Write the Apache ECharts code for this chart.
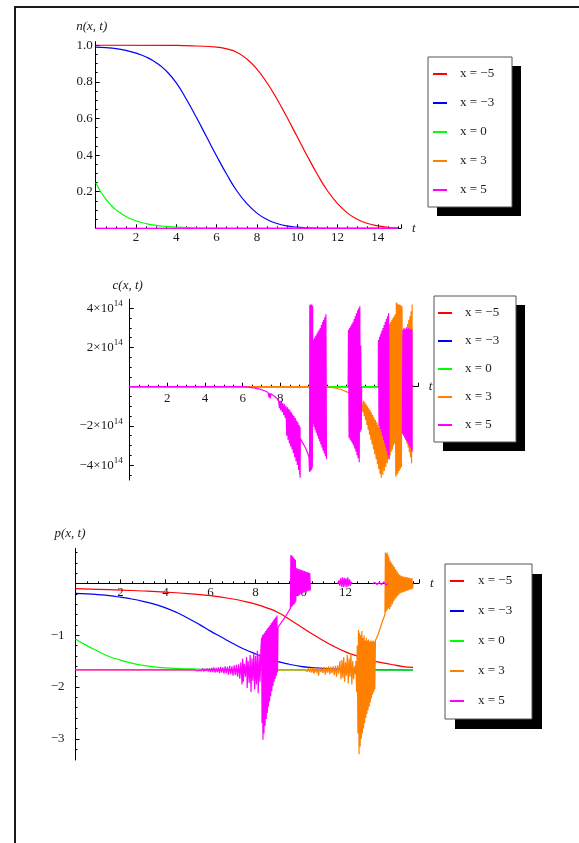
<!DOCTYPE html>
<html>
<head>
<meta charset="utf-8">
<script src="https://cdn.jsdelivr.net/npm/echarts@6/dist/echarts.min.js"></script>
<style>
html, body { margin: 0; padding: 0; background: #fff; }
#wrap { position: relative; width: 579px; height: 843px; overflow: hidden; }
#frame { position: absolute; left: 14px; top: 6px; width: 640px; height: 900px;
         border-left: 2px solid #1a1a1a; border-top: 2px solid #1a1a1a; }
#chart { position: absolute; left: 0; top: 0; width: 579px; height: 843px; }
</style>
</head>
<body>
<div id="wrap"><div id="frame"></div><div id="chart"></div></div>
<script>
// ---- series labels ----
const seriesNames = ['x = −5', 'x = −3', 'x = 0', 'x = 3', 'x = 5'];

// ---- tick values / labels ----
const tTicks = [2, 4, 6, 8, 10, 12, 14];
const nTicks = [0.2, 0.4, 0.6, 0.8, 1.0];
const nTickLabels = ['0.2', '0.4', '0.6', '0.8', '1.0'];
const nMinor = [0.05, 0.1, 0.15, 0.25, 0.3, 0.35, 0.45, 0.5, 0.55, 0.65, 0.7, 0.75, 0.85, 0.9, 0.95];
const cTicks = [-4, -2, 2, 4];
const cTickMantissa = ['−4', '−2', '2', '4'];
const cTickExponent = '14';
const cMinor = [-4.5, -3.5, -3, -2.5, -1.5, -1, -0.5, 0.5, 1, 1.5, 2.5, 3, 3.5];
const pTicks = [-3, -2, -1];
const pTickLabels = ['−3', '−2', '−1'];
const pMinor = [0.6, 0.4, 0.2, -0.2, -0.4, -0.6, -0.8, -1.2, -1.4, -1.6, -1.8, -2.2, -2.4, -2.6, -2.8, -3.2];

// ---- n(x, t) ----
const nRed = [[0,1],[4,0.999],[5,0.996],[6,0.99],[6.5,0.98],[7,0.962],[7.5,0.925],[8,0.87],[8.5,0.795],[9,0.705],[9.5,0.605],[10,0.5],[10.5,0.395],[11,0.295],[11.5,0.205],[12,0.135],[12.5,0.083],[13,0.048],[13.5,0.026],[14,0.013],[14.5,0.005],[15,0.002]];
const nBlue = [[0,0.99],[0.5,0.987],[1,0.982],[1.5,0.972],[2,0.957],[2.5,0.936],[3,0.905],[3.5,0.86],[4,0.795],[4.5,0.705],[5,0.605],[5.5,0.5],[6,0.395],[6.5,0.295],[7,0.205],[7.5,0.135],[8,0.083],[8.5,0.048],[9,0.026],[9.5,0.013],[10,0.006],[10.5,0.003],[11,0.001],[12,0],[15,0]];
const nGreen = [[0,0.25],[0.25,0.2],[0.5,0.16],[0.75,0.128],[1,0.102],[1.5,0.065],[2,0.041],[2.5,0.026],[3,0.016],[3.5,0.01],[4,0.006],[5,0.002],[6,0.0005],[7,0],[15,0]];
const nOrange = [[0,0],[15,0]];
const nMagenta = [[0,0],[15,0]];

// ---- c(x, t), in units of 10^14 ----
const cRed = [[0,0],[15,0]];
const cBlue = [[0,0],[15,0]];
const cGreen = [[0,0],[15,0]];
const cOrange = [[0,0],[10.3,0],[10.6,-0.02],[10.9,-0.06],[11.2,-0.13],[11.5,-0.25],[11.8,-0.38],[12.1,-0.5],[12.3,-0.6],
  [12.35,-0.65],[12.385,-1.3],[12.42,-0.72],[12.455,-1.5],[12.49,-0.8],[12.525,-1.7],[12.56,-0.9],[12.595,-1.95],[12.63,-1.0],[12.665,-2.2],[12.7,-1.1],[12.735,-2.45],[12.77,-1.2],[12.805,-2.7],[12.84,-1.32],[12.875,-2.95],[12.91,-1.45],[12.945,-3.2],[12.98,-1.58],[13.015,-3.45],[13.05,-1.7],[13.085,-3.7],[13.12,-1.82],[13.155,-3.95],[13.19,-1.95],[13.225,-4.2],[13.26,-2.05],[13.295,-4.45],[13.33,-2.1],[13.36,-4.65],
  [13.4,-2.2],[13.44,-4.5],[13.48,-2.3],[13.52,-4.3],[13.56,-2.4],[13.6,-4.1],[13.64,-2.5],[13.68,-3.9],[13.72,-2.6],[13.76,-3.7],
  [13.8,3.2],[13.83,-3.5],[13.86,3.3],[13.89,-3.3],[13.92,3.4],[13.95,-3.2],[13.98,3.5],[14.01,-3.0],[14.04,3.6],[14.07,-2.9],[14.1,3.7],
  [14.13,-4.6],[14.16,4.3],[14.19,-4.5],[14.22,4.25],[14.25,-4.4],[14.28,4.2],[14.31,-4.3],[14.34,4.2],[14.37,-4.2],[14.4,4.15],[14.43,-4.1],[14.46,4.1],
  [14.49,-2.1],[14.52,2.6],[14.55,-2.3],[14.58,2.75],[14.61,-2.5],[14.64,2.9],[14.67,-2.7],[14.7,3.05],[14.73,-2.9],[14.76,3.2],[14.79,-3.1],[14.82,3.4],[14.85,-3.35],[14.88,3.6],[14.91,-3.6],[14.94,3.85],[14.97,-3.9],[15,4.2]];
const cMagenta = [[0,0],[6,0],[6.3,-0.02],[6.6,-0.06],[6.9,-0.12],[7.2,-0.22],[7.35,-0.3],[7.4,-0.55],[7.43,-0.32],[7.47,-0.6],[7.5,-0.36],[7.6,-0.42],[7.7,-0.5],[7.8,-0.58],[7.9,-0.68],[7.95,-1.1],[7.98,-0.72],[8.02,-1.2],[8.06,-0.78],[8.1,-1.3],[8.14,-0.84],[8.18,-1.45],[8.22,-0.9],[8.26,-1.6],[8.3,-0.98],
  [8.34,-2.5],[8.375,-1.05],[8.41,-2.7],[8.445,-1.12],[8.48,-2.9],[8.515,-1.2],[8.55,-3.05],[8.585,-1.3],[8.62,-3.2],[8.655,-1.4],[8.69,-3.4],[8.725,-1.5],[8.76,-3.6],[8.795,-1.6],[8.83,-3.8],[8.865,-1.72],[8.9,-4.0],[8.935,-1.82],[8.97,-4.25],[9.0,-1.95],[9.03,-4.5],[9.045,-2.05],[9.05,-4.65],[9.06,-2.65],
  [9.15,-2.8],[9.25,-2.97],[9.35,-3.15],[9.45,-3.38],[9.52,-3.6],
  [9.55,-4.35],[9.565,4.15],[9.58,-4.3],[9.595,4.2],[9.61,-4.3],[9.625,4.18],[9.64,-4.25],[9.655,4.2],[9.67,-4.2],[9.685,4.15],[9.7,-4.1],[9.715,4.1],
  [9.73,-1.9],[9.76,2.4],[9.79,-2.05],[9.82,2.5],[9.85,-2.2],[9.88,2.6],[9.91,-2.35],[9.94,2.7],[9.97,-2.5],[10.0,2.8],[10.03,-2.65],[10.06,2.9],[10.09,-2.8],[10.12,3.0],[10.15,-2.95],[10.18,3.15],[10.21,-3.1],[10.24,3.3],[10.27,-3.25],[10.3,3.4],[10.33,-3.4],[10.36,3.55],[10.39,-3.55],[10.42,3.7],[10.45,-3.7],[10.47,'-'],
  [11.6,0],[11.62,2.9],[11.65,-2.6],[11.68,3.0],[11.71,-2.7],[11.74,3.1],[11.77,-2.8],[11.8,3.2],[11.83,-2.9],[11.86,3.3],[11.89,-3.0],[11.92,3.45],[11.95,-3.15],[11.98,3.6],[12.01,-3.3],[12.04,3.75],[12.07,-3.5],[12.1,3.9],[12.13,-3.65],[12.16,4.0],[12.19,-3.85],[12.22,4.1],[12.24,-2.3],[12.27,2.1],[12.3,-2.2],[12.32,0],[12.34,'-'],
  [13.2,0],[13.21,2.4],[13.24,-2.0],[13.27,2.55],[13.3,-2.15],[13.33,2.7],[13.36,-2.3],[13.39,2.85],[13.42,-2.5],[13.45,3.0],[13.48,-2.7],[13.51,3.15],[13.54,-2.9],[13.57,3.3],[13.6,-3.1],[13.63,3.45],[13.66,-3.3],[13.69,3.6],[13.72,-3.5],[13.75,3.75],[13.78,-3.7],[13.8,'-'],
  [14.48,-2.4],[14.51,2.9],[14.54,-2.5],[14.57,3.0],[14.6,-2.6],[14.63,2.95],[14.66,-2.7],[14.69,3.0],[14.72,-2.8],[14.75,2.95],[14.78,-2.9],[14.81,3.0],[14.84,-3.0],[14.87,2.9],[14.9,-3.1],[14.93,2.95],[14.96,-3.2],[14.99,2.9],[15,-3.3]];

// ---- p(x, t) ----
const pRed = [[0,-0.1],[1,-0.112],[2,-0.127],[3,-0.145],[4,-0.167],[5,-0.195],[6,-0.235],[7,-0.3],[7.5,-0.345],[8,-0.4],[8.5,-0.47],[9,-0.56],[9.5,-0.69],[10,-0.83],[10.5,-0.97],[11,-1.1],[11.5,-1.22],[12,-1.32],[12.5,-1.4],[13,-1.47],[13.5,-1.52],[14,-1.56],[14.5,-1.6],[15,-1.62]];
const pBlue = [[0,-0.19],[0.5,-0.2],[1,-0.215],[1.5,-0.235],[2,-0.265],[2.5,-0.3],[3,-0.345],[3.5,-0.4],[4,-0.47],[4.5,-0.56],[5,-0.67],[5.5,-0.79],[6,-0.92],[6.5,-1.04],[7,-1.16],[7.5,-1.27],[8,-1.36],[8.5,-1.44],[9,-1.51],[9.5,-1.56],[10,-1.6],[10.5,-1.625],[11,-1.64],[11.5,-1.65],[12,-1.658],[13,-1.666],[14,-1.67],[15,-1.672]];
const pGreen = [[0,-1.07],[0.5,-1.2],[1,-1.31],[1.5,-1.41],[2,-1.48],[2.5,-1.54],[3,-1.58],[3.5,-1.61],[4,-1.63],[5,-1.65],[6,-1.66],[8,-1.668],[15,-1.672]];
const pOrange = [[0,-1.67],[10.2,-1.67],
  [10.25,-1.64],[10.3,-1.7],[10.35,-1.63],[10.4,-1.71],[10.45,-1.64],[10.5,-1.72],[10.55,-1.63],[10.6,-1.74],[10.65,-1.62],[10.7,-1.72],[10.75,-1.63],[10.8,-1.78],[10.85,-1.62],[10.9,-1.71],[10.95,-1.64],[11.0,-1.73],[11.05,-1.61],[11.1,-1.76],[11.15,-1.62],[11.2,-1.72],[11.25,-1.6],[11.3,-1.75],[11.35,-1.61],[11.4,-1.73],[11.45,-1.6],[11.5,-1.77],[11.55,-1.59],[11.6,-1.8],[11.65,-1.58],[11.7,-1.74],[11.75,-1.5],[11.8,-1.85],
  [11.84,-1.48],[11.88,-1.82],[11.92,-1.42],[11.96,-1.9],[12.0,-1.52],[12.04,-1.78],[12.08,-1.38],[12.12,-1.93],[12.16,-1.45],[12.2,-1.8],[12.24,-1.35],[12.28,-1.95],[12.32,-1.5],[12.36,-1.85],[12.4,-1.6],[12.44,-1.75],
  [12.46,-1.5],[12.49,-2.1],[12.52,-1.2],[12.55,-2.9],[12.575,-0.9],[12.6,-3.3],[12.625,-0.95],[12.65,-3.15],[12.675,-1.0],[12.7,-3.0],[12.725,-0.92],[12.75,-2.9],[12.775,-1.05],[12.8,-2.8],[12.825,-1.0],[12.85,-2.7],[12.875,-1.1],[12.9,-2.6],[12.925,-1.05],[12.95,-2.52],[12.975,-1.1],[13.0,-2.45],[13.025,-1.08],[13.05,-2.38],[13.075,-1.12],[13.1,-2.3],[13.125,-1.1],[13.15,-2.22],[13.175,-1.12],[13.2,-2.15],[13.225,-1.1],[13.25,-2.1],[13.275,-1.12],[13.3,-2.05],[13.33,-1.1],
  [13.45,-0.98],[13.55,-0.85],[13.65,-0.72],[13.75,-0.6],
  [13.77,0.6],[13.79,-0.55],[13.81,0.58],[13.83,-0.52],[13.85,0.6],[13.87,-0.5],[13.89,0.55],[13.91,-0.48],[13.93,0.5],
  [13.96,-0.5],[13.99,0.44],[14.02,-0.45],[14.05,0.4],[14.08,-0.4],[14.11,0.36],[14.14,-0.35],[14.17,0.32],[14.2,-0.31],[14.23,0.28],[14.26,-0.27],[14.29,0.24],[14.32,-0.24],[14.35,0.2],[14.38,-0.21],[14.41,0.17],[14.44,-0.19],[14.47,0.15],[14.5,-0.18],[14.53,0.14],[14.56,-0.17],[14.59,0.13],[14.62,-0.16],[14.65,0.13],[14.68,-0.15],[14.71,0.12],[14.74,-0.14],[14.77,0.12],[14.8,-0.13],[14.83,0.11],[14.86,-0.12],[14.89,0.1],[14.92,-0.11],[14.95,0.1],[14.98,-0.1],[15,0]];
const pMagenta = [[0,-1.67],[5.3,-1.67],
  [5.35,-1.65],[5.4,-1.69],[5.45,-1.66],[5.5,-1.68],[5.55,-1.65],[5.6,-1.69],[5.65,-1.64],[5.7,-1.7],[5.75,-1.65],[5.8,-1.69],[5.85,-1.64],[5.9,-1.7],[5.95,-1.64],[6.0,-1.71],[6.05,-1.63],[6.1,-1.71],[6.15,-1.62],[6.2,-1.72],[6.25,-1.63],[6.3,-1.71],[6.35,-1.62],[6.4,-1.73],[6.45,-1.61],[6.5,-1.72],[6.55,-1.62],[6.6,-1.74],[6.65,-1.6],[6.7,-1.73],[6.75,-1.61],[6.8,-1.76],[6.85,-1.59],[6.9,-1.75],[6.95,-1.6],[7.0,-1.78],[7.05,-1.58],[7.1,-1.77],[7.15,-1.57],[7.2,-1.8],[7.25,-1.56],[7.3,-1.84],[7.35,-1.52],[7.4,-1.95],[7.43,-1.45],[7.46,-1.9],[7.5,-1.55],[7.55,-1.8],[7.6,-1.42],[7.63,-2.02],[7.67,-1.5],[7.72,-1.92],[7.76,-1.38],[7.8,-2.1],[7.84,-1.45],[7.88,-1.88],[7.92,-1.33],[7.96,-2.05],[8.0,-1.4],[8.04,-1.95],[8.08,-1.3],[8.12,-2.12],[8.16,-1.36],[8.2,-1.9],[8.24,-1.25],
  [8.27,-1.05],[8.29,-2.7],[8.31,-1.0],[8.33,-3.02],[8.35,-0.98],[8.375,-2.9],[8.4,-0.95],[8.425,-2.75],[8.45,-0.92],[8.475,-2.62],[8.5,-0.89],[8.525,-2.5],[8.55,-0.86],[8.575,-2.38],[8.6,-0.83],[8.625,-2.28],[8.65,-0.8],[8.675,-2.18],[8.7,-0.77],[8.725,-2.08],[8.75,-0.74],[8.775,-1.98],[8.8,-0.71],[8.825,-1.9],[8.85,-0.68],[8.875,-1.84],[8.9,-0.65],[8.925,-1.78],[8.95,-0.62],[8.975,-1.72],[9.0,-0.85],
  [9.15,-0.75],[9.3,-0.66],[9.45,-0.55],[9.55,-0.48],
  [9.57,0.55],[9.59,-0.46],[9.61,0.54],[9.63,-0.44],[9.65,0.52],[9.67,-0.42],[9.69,0.5],[9.71,-0.4],[9.73,0.48],[9.75,-0.38],[9.77,0.46],[9.79,-0.35],
  [9.81,0.3],[9.84,-0.24],[9.87,0.29],[9.9,-0.23],[9.93,0.28],[9.96,-0.22],[9.99,0.27],[10.02,-0.2],[10.05,0.26],[10.08,-0.19],[10.11,0.25],[10.14,-0.18],[10.17,0.24],[10.2,-0.17],[10.23,0.23],[10.26,-0.16],[10.29,0.22],[10.32,-0.15],[10.35,0.21],[10.38,-0.14],[10.41,0.2],[10.44,-0.13],[10.46,'-'],
  [11.65,0],[11.7,0.06],[11.74,-0.04],[11.78,0.1],[11.82,-0.06],[11.86,0.12],[11.9,-0.07],[11.94,0.11],[11.98,-0.06],[12.02,0.1],[12.06,-0.07],[12.1,0.12],[12.14,-0.05],[12.18,0.08],[12.22,-0.04],[12.26,0.03],[12.3,0],[12.32,'-'],
  [13.2,0],[13.3,0.02],[13.4,-0.02],[13.5,0.02],[13.6,-0.02],[13.7,0.03],[13.8,-0.03],[13.9,0]];

const nData = [nRed, nBlue, nGreen, nOrange, nMagenta];
const cData = [cRed, cBlue, cGreen, cOrange, cMagenta];
const pData = [pRed, pBlue, pGreen, pOrange, pMagenta];

// ---- styling ----
const colors = ['#ff0000', '#0000ff', '#00ff00', '#ff8000', '#ff00ff'];
const serif = '"Liberation Serif", "DejaVu Serif", serif';
const ink = '#1a1a1a';
const smoothFlags = [true, true, true, false, false];

const chart = echarts.init(document.getElementById('chart'), null, { renderer: 'canvas' });

// horizontal t axis; a negative offset lifts the whole axis (line, ticks, labels) to y = 0
function tAxis(gridIndex, max, margin, lift) {
  return {
    type: 'value', gridIndex, min: 0, max, interval: 2,
    position: 'bottom', offset: -lift,
    name: 't', nameLocation: 'end', nameGap: 11,
    nameTextStyle: { fontFamily: serif, fontStyle: 'italic', fontSize: 13, color: ink },
    axisLine: { onZero: false, lineStyle: { color: '#000', width: 1 } },
    axisTick: { inside: true, length: 4, lineStyle: { color: '#000' } },
    minorTick: { show: true, splitNumber: 4, length: 2, lineStyle: { color: '#000' } },
    axisLabel: {
      margin, fontFamily: serif, fontSize: 13, color: ink,
      formatter: v => (tTicks.indexOf(v) >= 0 ? String(v) : '')
    },
    splitLine: { show: false }, minorSplitLine: { show: false }
  };
}

function valueAxis(gridIndex, min, max, ticks, formatter, name, nameGap, namePad, labelMargin, rich) {
  return {
    type: 'value', gridIndex, min, max, position: 'left',
    name, nameLocation: 'end', nameGap,
    nameTextStyle: { fontFamily: serif, fontStyle: 'italic', fontSize: 13, color: ink, padding: namePad },
    axisLine: { show: true, onZero: false, lineStyle: { color: '#000', width: 1 } },
    axisTick: { show: true, inside: true, length: 4, customValues: ticks, lineStyle: { color: '#000' } },
    axisLabel: { show: true, customValues: ticks, margin: labelMargin, fontFamily: serif, fontSize: 13, color: ink, formatter, rich },
    splitLine: { show: false }
  };
}

function minorAxis(gridIndex, min, max, ticks) {
  return {
    type: 'value', gridIndex, min, max, position: 'left', offset: 0,
    axisLine: { show: false, onZero: false },
    axisTick: { show: true, inside: true, length: 2, customValues: ticks, lineStyle: { color: '#000' } },
    axisLabel: { show: false },
    splitLine: { show: false }
  };
}

// legend body: white panel with a hard black drop shadow and the item rows
function legendBody(left, top, pad, gap, textPad, shadow) {
  return {
    show: true, orient: 'vertical', left, top, padding: pad, itemGap: gap,
    itemWidth: 14, itemHeight: 2, icon: 'rect', selectedMode: false,
    backgroundColor: '#fff', borderWidth: 0,
    shadowColor: '#000', shadowBlur: 0, shadowOffsetX: shadow, shadowOffsetY: shadow,
    textStyle: { fontFamily: serif, fontSize: 13, color: ink, lineHeight: 16, width: 36, padding: [0, 0, 0, textPad] },
    data: seriesNames
  };
}
// legend outline: same box drawn on top with only its grey border visible
function legendOutline(left, top, pad, gap, textPad) {
  return {
    show: true, orient: 'vertical', left, top, padding: pad, itemGap: gap, z: 10,
    itemWidth: 14, itemHeight: 2, icon: 'rect', selectedMode: false,
    backgroundColor: 'transparent', borderColor: '#555', borderWidth: 1,
    itemStyle: { opacity: 0 },
    textStyle: { fontFamily: serif, fontSize: 13, color: 'rgba(0,0,0,0)', lineHeight: 16, width: 36, padding: [0, 0, 0, textPad] },
    data: seriesNames
  };
}

const series = [];
[nData, cData, pData].forEach((group, g) => {
  group.forEach((data, i) => {
    series.push({
      type: 'line', name: seriesNames[i], data,
      xAxisIndex: g, yAxisIndex: g,
      symbol: 'none', showSymbol: false,
      smooth: smoothFlags[i] ? 0.5 : false,
      connectNulls: false, clip: true,
      lineStyle: { color: colors[i], width: 1.2 },
      itemStyle: { color: colors[i] },
      emphasis: { disabled: true }
    });
  });
});

const option = {
  animation: false,
  backgroundColor: 'transparent',
  grid: [
    { left: 95.7, top: 41.6, width: 305.3, height: 186.7 },
    { left: 129.7, top: 299.3, width: 288.1, height: 180.7 },
    { left: 75.5, top: 548.3, width: 343.4, height: 211.7 }
  ],
  xAxis: [tAxis(0, 15.15, 3, 0), tAxis(1, 15.3, 5, 93.3), tAxis(2, 15.26, 3, 176.7)],
  yAxis: [
    valueAxis(0, 0, 1.02, nTicks,
      v => { const k = nTicks.findIndex(x => Math.abs(x - v) < 1e-9); return k >= 0 ? nTickLabels[k] : ''; },
      'n(x, t)', 9, [0, 8, 0, 0], 3),
    valueAxis(1, -4.76, 4.46, cTicks,
      v => { const k = cTicks.indexOf(v); return k >= 0 ? '{m|' + cTickMantissa[k] + '×10}{e|' + cTickExponent + '}' : ''; },
      'c(x, t)', 7, [0, 4, 0, 0], 7,
      { m: { fontFamily: serif, fontSize: 13, color: ink, lineHeight: 18 },
        e: { fontFamily: serif, fontSize: 9, color: ink, lineHeight: 8, verticalAlign: 'top' } }),
    valueAxis(2, -3.41, 0.68, pTicks,
      v => { const k = pTicks.indexOf(v); return k >= 0 ? pTickLabels[k] : ''; },
      'p(x, t)', 8, [0, 11, 0, 0], 11),
    minorAxis(0, 0, 1.02, nMinor),
    minorAxis(1, -4.76, 4.46, cMinor),
    minorAxis(2, -3.41, 0.68, pMinor)
  ],
  legend: [
    legendBody(428, 57, [9, 16, 9, 5], 13, 8, 9),
    legendBody(434, 296, [9, 15, 9, 4], 12, 8, 9),
    legendBody(445, 564, [9, 18, 10, 5], 14, 9, 10),
    legendOutline(428, 57, [9, 16, 9, 5], 13, 8),
    legendOutline(434, 296, [9, 15, 9, 4], 12, 8),
    legendOutline(445, 564, [9, 18, 10, 5], 14, 9)
  ],
  series
};

chart.setOption(option);
</script>
</body>
</html>
